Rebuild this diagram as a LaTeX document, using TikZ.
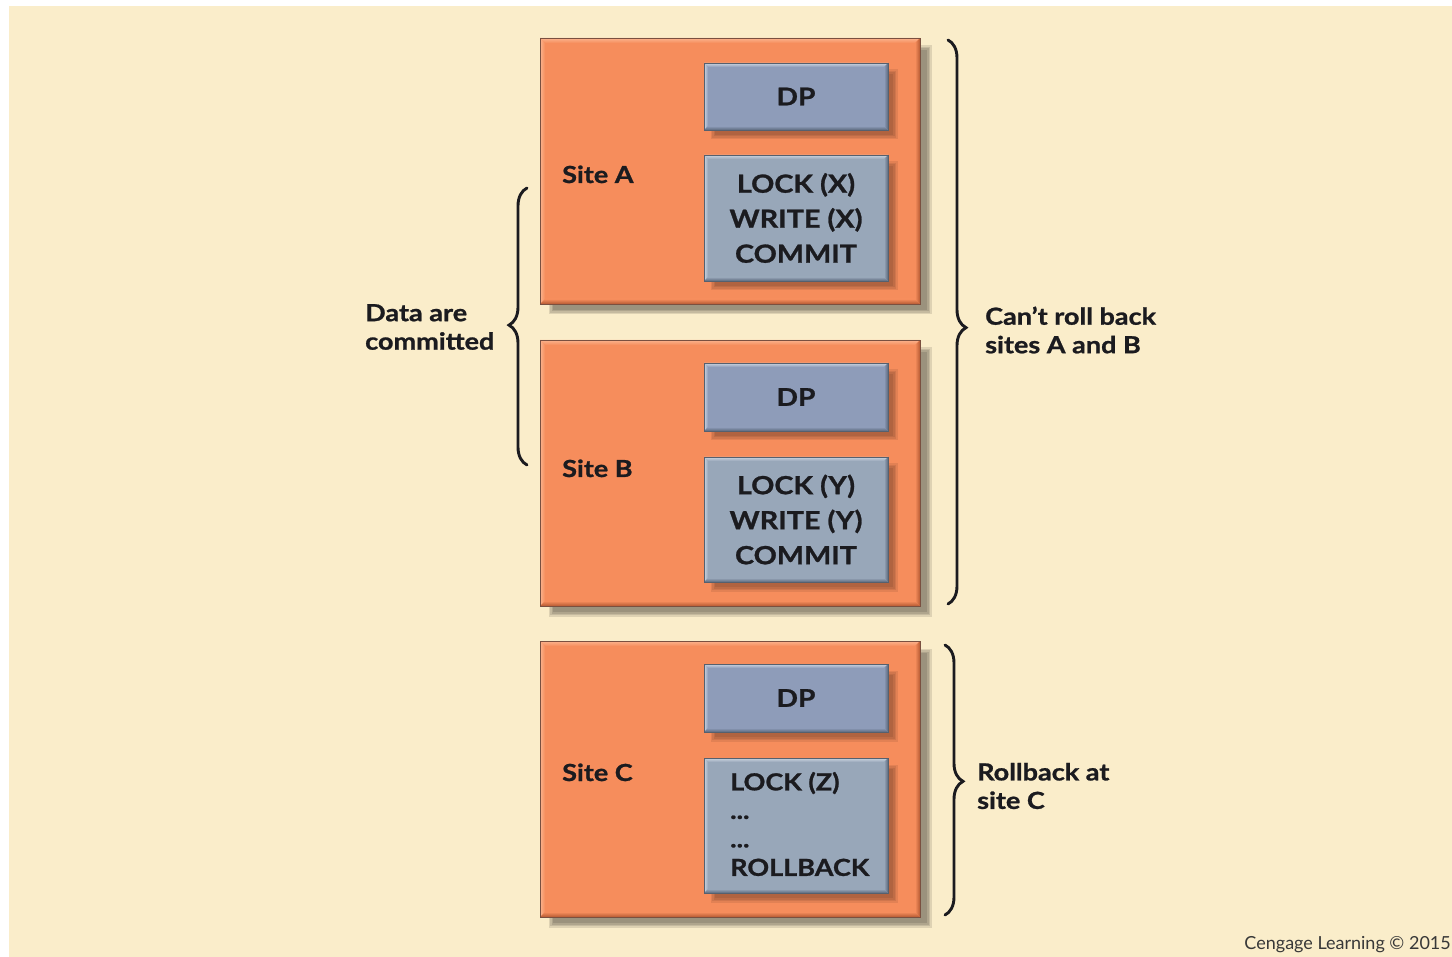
\documentclass[tikz,border=0pt]{standalone}
\usepackage{fontspec}
\setmainfont{Lato}[FakeStretch=1.15, BoldFeatures={FakeBold=1}]
\newfontfamily\creditfont{Lato}
\usetikzlibrary{calc,decorations.pathreplacing}

\definecolor{cream}{HTML}{FAEDCA}
\definecolor{sitefill}{HTML}{F68D5C}
\definecolor{sitelight}{HTML}{FBB48E}
\definecolor{sitedark}{HTML}{B55A33}
\definecolor{siteedge}{HTML}{7A5040}
\definecolor{dpfill}{HTML}{8E9CB9}
\definecolor{lockfill}{HTML}{98A7B9}
\definecolor{boxlight}{HTML}{CBD4E0}
\definecolor{boxdark}{HTML}{5B687C}
\definecolor{boxedge}{HTML}{56606E}
\definecolor{ink}{HTML}{1B1B1F}

\pgfdeclarelayer{paperlayer}
\pgfdeclarelayer{siteshadow}
\pgfdeclarelayer{sitelayer}
\pgfdeclarelayer{boxshadow}
\pgfsetlayers{paperlayer,siteshadow,sitelayer,boxshadow,main}

% soft drop shadow behind a rectangular node: node, dx, dy, opacity per layer
\newcommand\dropshade[4]{%
  \foreach \g in {0,1.5,3,4.5}{%
    \fill[black, opacity=#4]
      ($(#1.north west)+(#2-\g+3,#3-\g+3)$) rectangle
      ($(#1.south east)+(#2+\g-3,#3+\g-3)$);
  }%
}
% bevelled rim: node, light, fill, dark, rim width
\newcommand\edgebevel[5]{%
  \shade[top color=#2, bottom color=#3] (#1.north west) -- (#1.north east)
    -- ($(#1.north east)+(-#5,#5)$) -- ($(#1.north west)+(#5,#5)$) -- cycle;
  \shade[left color=#2, right color=#3] (#1.north west) -- ($(#1.north west)+(#5,#5)$)
    -- ($(#1.south west)+(#5,-#5)$) -- (#1.south west) -- cycle;
  \shade[top color=#3, bottom color=#4] (#1.south west) -- ($(#1.south west)+(#5,-#5)$)
    -- ($(#1.south east)+(-#5,-#5)$) -- (#1.south east) -- cycle;
  \shade[left color=#3, right color=#4] (#1.north east) -- ($(#1.north east)+(-#5,#5)$)
    -- ($(#1.south east)+(-#5,-#5)$) -- (#1.south east) -- cycle;
}
% one site panel with its rim and shadow
\newcommand\sitepanel[4]{%
  \begin{pgfonlayer}{sitelayer}
    \node[site, minimum width=#3, minimum height=#4] (#1) at (#2) {};
    \edgebevel{#1}{sitelight}{sitefill}{sitedark}{5}
    \draw[siteedge, line width=0.9pt] (#1.north west) rectangle (#1.south east);
  \end{pgfonlayer}
  \begin{pgfonlayer}{siteshadow}
    \dropshade{#1}{10}{9}{0.11}
  \end{pgfonlayer}
}
% finishing touches for a grey box
\newcommand\boxfinish[2]{%
  \edgebevel{#1}{boxlight}{#2}{boxdark}{4}
  \draw[boxedge, line width=0.7pt] (#1.north west) rectangle (#1.south east);
  \begin{pgfonlayer}{boxshadow}
    \dropshade{#1}{8}{8}{0.08}
  \end{pgfonlayer}
}

\begin{document}
\begin{tikzpicture}[x=1pt, y=-1pt,
  site/.style={rectangle, inner sep=0pt, outer sep=0pt, fill=sitefill},
  dpbox/.style={rectangle, inner sep=0pt, outer sep=0pt, fill=dpfill,
    minimum width=184pt, text=ink, font=\fontsize{24.5}{30}\selectfont\bfseries},
  lockbox/.style={rectangle, inner sep=0pt, outer sep=0pt, fill=lockfill,
    minimum width=184pt, text=ink, align=center,
    font=\fontsize{25}{35}\selectfont\bfseries},
  sitelbl/.style={inner sep=0pt, text=ink, anchor=base west,
    font=\fontsize{23.5}{28.5}\selectfont\bfseries},
  sidelbl/.style={inner sep=0pt, text=ink, anchor=west, align=left,
    font=\fontsize{23.5}{28.5}\selectfont\bfseries},
  curly/.style={decorate, decoration={brace, amplitude=18pt, aspect=#1},
    draw=ink, line width=2.9pt, line cap=round},
]
\useasboundingbox (0,0) rectangle (1452,957);
\begin{pgfonlayer}{paperlayer}
  \fill[white] (0,0) rectangle (1452,957);
  \fill[cream] (9,6) rectangle (1452,957);
\end{pgfonlayer}

% site panels
\sitepanel{siteA}{730,171}{380pt}{266pt}
\sitepanel{siteB}{730,473}{380pt}{266pt}
\sitepanel{siteC}{730,779}{380pt}{276pt}

% site A
\node[dpbox, minimum height=67pt] (dpA) at (796,96.5) {DP};
\boxfinish{dpA}{dpfill}
\node[lockbox, minimum height=126pt] (lockA) at (796,218) {LOCK (X)\\WRITE (X)\\COMMIT};
\boxfinish{lockA}{lockfill}
\node[sitelbl] (labelA) at (562,183) {Site A};

% site B
\node[dpbox, minimum height=68pt] (dpB) at (796,397) {DP};
\boxfinish{dpB}{dpfill}
\node[lockbox, minimum height=125pt] (lockB) at (796,519.5) {LOCK (Y)\\WRITE (Y)\\COMMIT};
\boxfinish{lockB}{lockfill}
\node[sitelbl] (labelB) at (562,477) {Site B};

% site C
\node[dpbox, minimum height=68pt] (dpC) at (796,698) {DP};
\boxfinish{dpC}{dpfill}
\node[lockbox, minimum height=135pt] (lockC) at (796,825.5) {};
\boxfinish{lockC}{lockfill}
\node[sidelbl] (lockCtext) at (730,824) {LOCK (Z)\\...\\...\\ROLLBACK};
\node[sitelbl] (labelC) at (562,781) {Site C};

% braces and their captions
\coordinate (comBot) at (527,465);
\coordinate (comTop) at (527,188);
\draw[curly=0.505] (comBot) -- (comTop);
\node[sidelbl] (committed) at (365,327) {Data are\\committed};

\coordinate (abTop) at (948,40);
\coordinate (abBot) at (948,604);
\draw[curly=0.51] (abTop) -- (abBot);
\node[sidelbl] (noRollback) at (985,330) {Can’t roll back\\sites A and B};

\coordinate (cTop) at (945,645);
\coordinate (cBot) at (945,915);
\draw[curly=0.505] (cTop) -- (cBot);
\node[sidelbl] (rollbackC) at (977,786) {Rollback at\\site C};

% credit line
\node[inner sep=0pt, anchor=base east, text=black!78,
  font=\creditfont\fontsize{18}{20}\selectfont] (credit) at (1451,949) {Cengage Learning © 2015};
\end{tikzpicture}
\end{document}
